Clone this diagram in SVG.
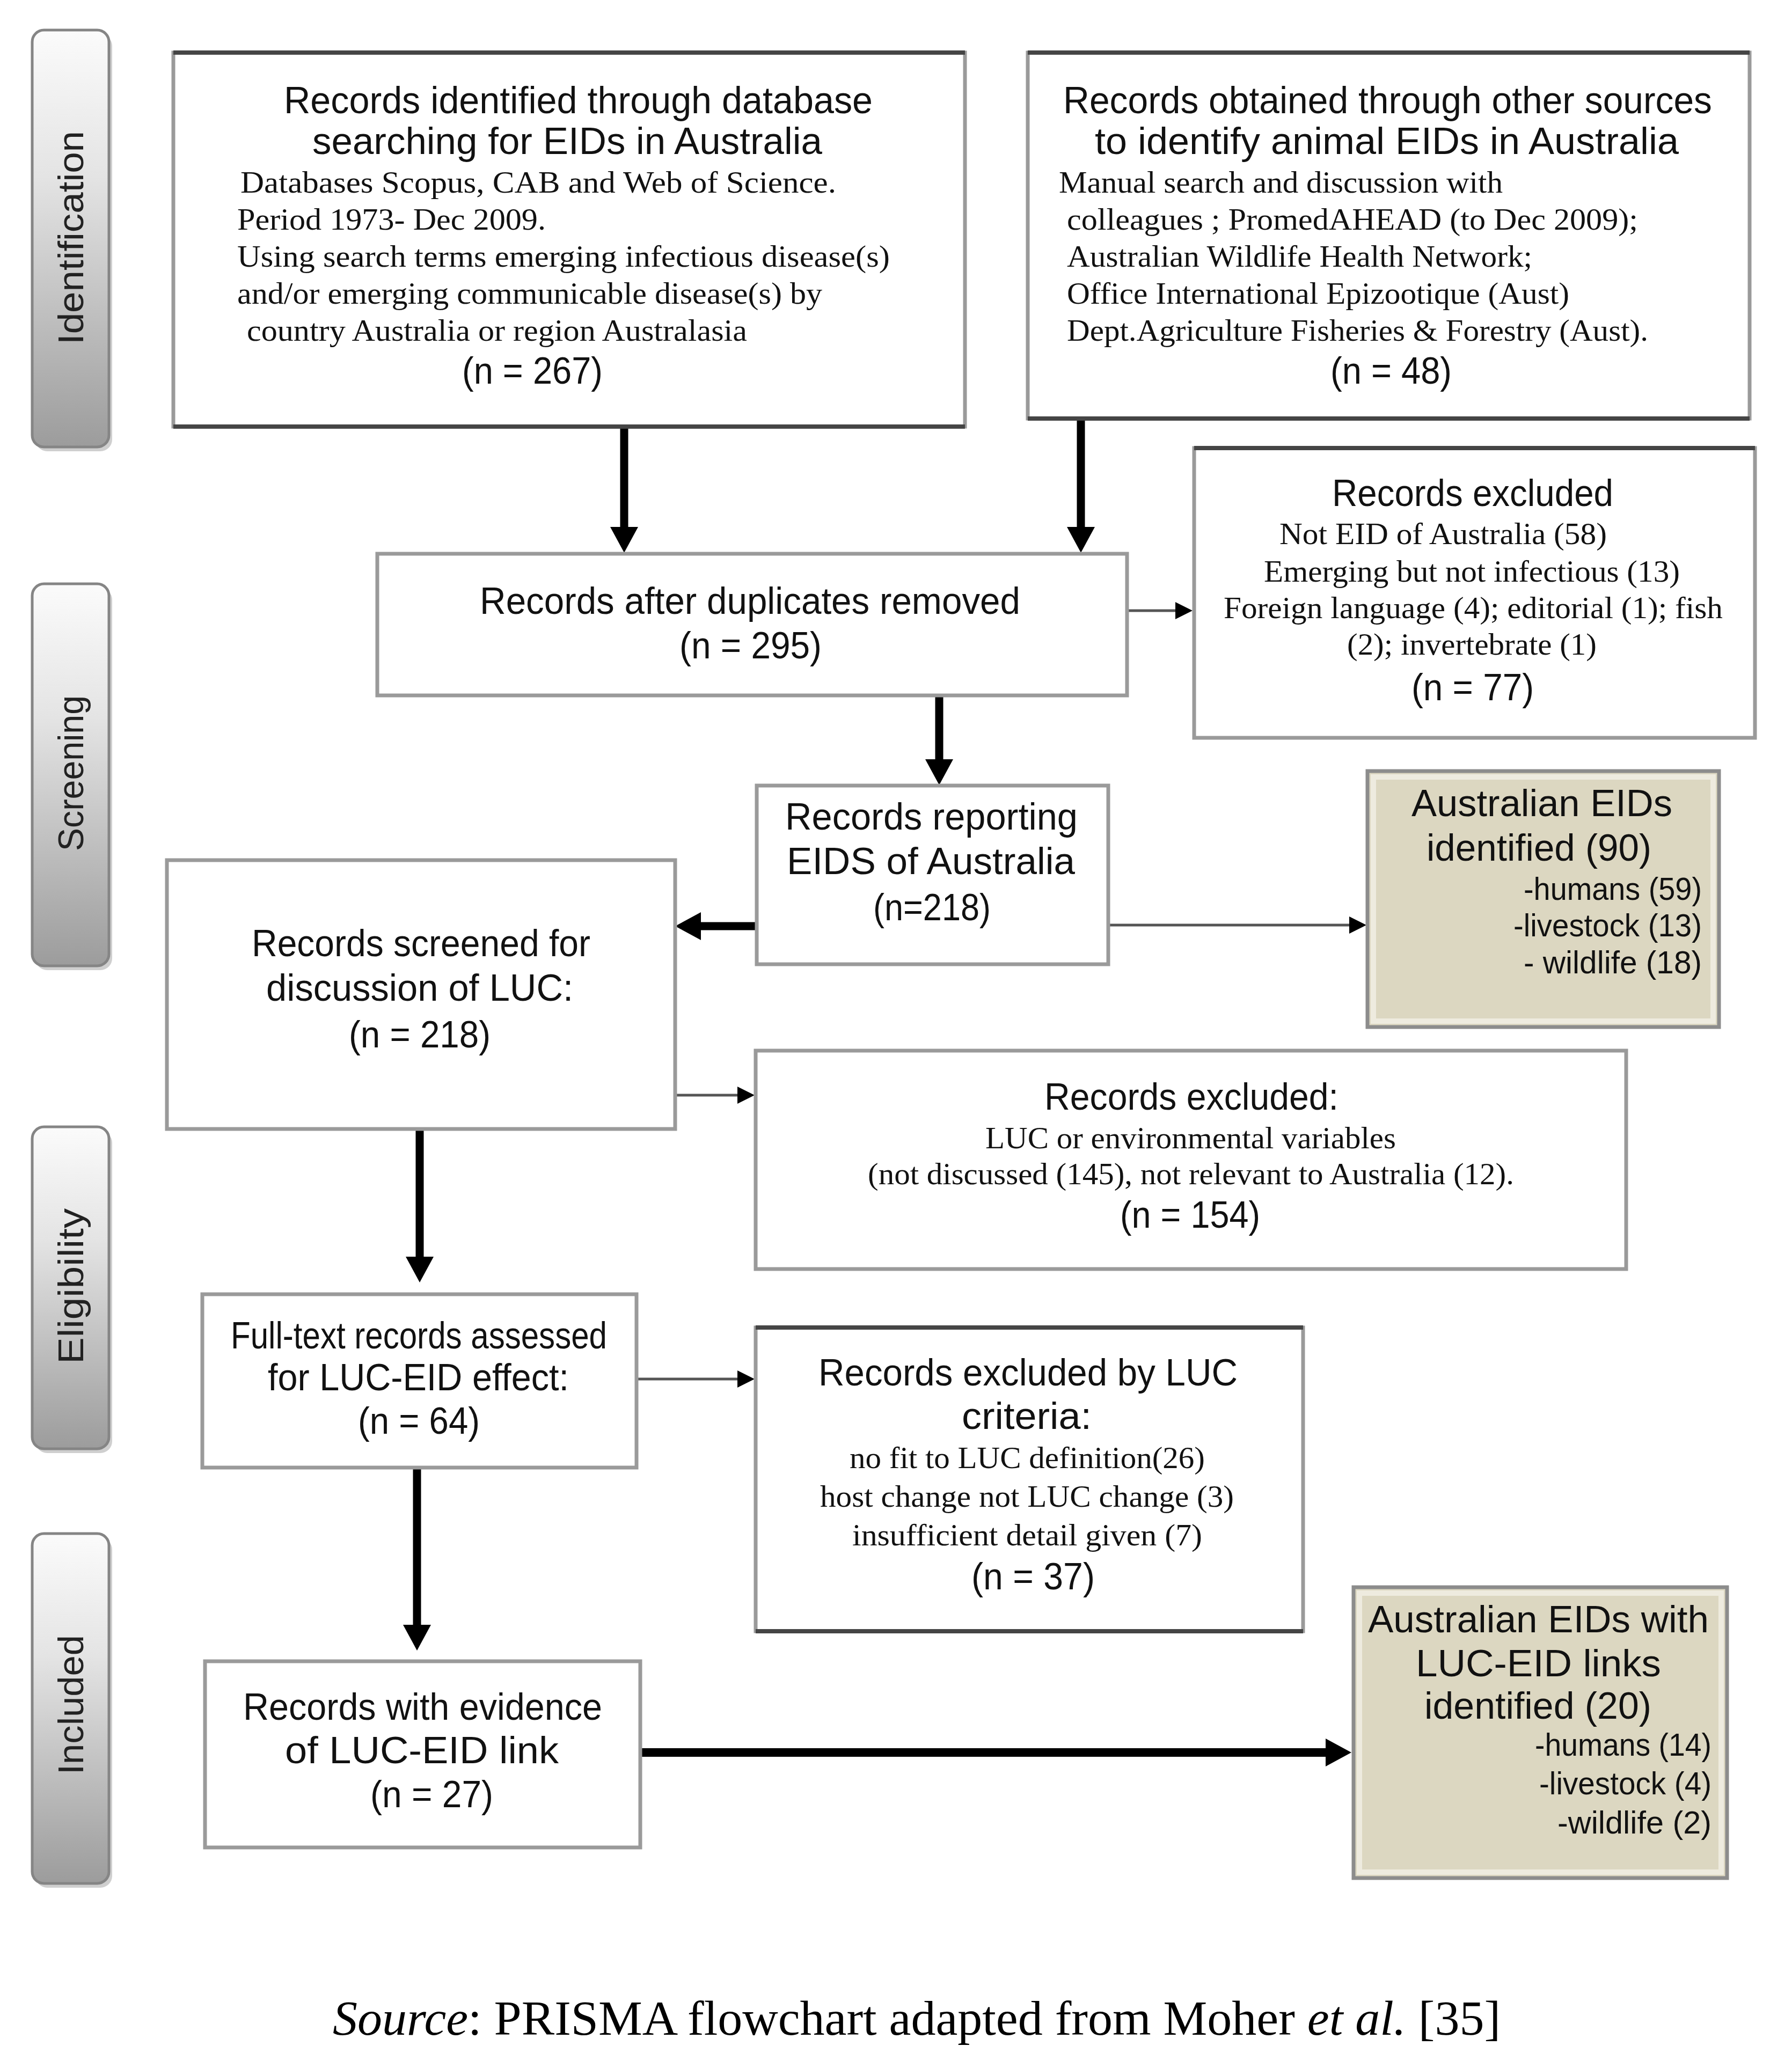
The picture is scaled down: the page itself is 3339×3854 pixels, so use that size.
<svg xmlns="http://www.w3.org/2000/svg" width="3339" height="3854" viewBox="0 0 3339 3854">
<style>
.box{fill:#fff;stroke:#9a9a9a;stroke-width:7}
.edge{stroke:#454545;stroke-width:8}
.eid{fill:#dcd7c1;stroke:#8c8c8c;stroke-width:7}
.eidin{fill:none;stroke:#eeebdf;stroke-width:10}
.t{font-family:"Liberation Sans",Arial,sans-serif;font-size:70px;fill:#111}
.s{font-family:"Liberation Serif","Times New Roman",serif;font-size:58px;fill:#111}
.i{font-family:"Liberation Sans",Arial,sans-serif;font-size:59px;fill:#111}
.tab{fill:url(#tg);stroke:#858585;stroke-width:5}
.tabsh{fill:#cfcfcf}
.tabt{font-family:"Liberation Sans",Arial,sans-serif;font-size:66px;fill:#222}
.thick{stroke:#000;stroke-width:15;fill:none}
.thin{stroke:#555;stroke-width:5;fill:none}
.cap{font-family:"Liberation Serif","Times New Roman",serif;font-size:92px;fill:#000}
</style>
<defs>
<linearGradient id="tg" x1="0" y1="0" x2="0" y2="1">
<stop offset="0" stop-color="#fbfbfb"/>
<stop offset="0.35" stop-color="#e4e4e4"/>
<stop offset="1" stop-color="#9c9c9c"/>
</linearGradient>
<marker id="hk" markerUnits="userSpaceOnUse" markerWidth="48" markerHeight="52" refX="0" refY="26" orient="auto" viewBox="0 0 48 52">
<path d="M0,0 L48,26 L0,52 z" fill="#000"/>
</marker>
<marker id="hn" markerUnits="userSpaceOnUse" markerWidth="32" markerHeight="32" refX="0" refY="16" orient="auto" viewBox="0 0 32 32">
<path d="M0,0 L32,16 L0,32 z" fill="#000"/>
</marker>
</defs>
<rect width="3339" height="3854" fill="#fff"/>

<g id="tabs">
<g id="tab-identification">
<rect class="tabsh" x="66" y="64" width="143" height="777" rx="22"/>
<rect class="tab" x="60" y="56" width="143" height="777" rx="22"/>
<text class="tabt" transform="translate(155,642) rotate(-90)" x="0" y="0" textLength="398" lengthAdjust="spacingAndGlyphs">Identification</text>
</g>
<g id="tab-screening">
<rect class="tabsh" x="66" y="1096" width="143" height="712" rx="22"/>
<rect class="tab" x="60" y="1088" width="143" height="712" rx="22"/>
<text class="tabt" transform="translate(155,1586) rotate(-90)" x="0" y="0" textLength="290" lengthAdjust="spacingAndGlyphs">Screening</text>
</g>
<g id="tab-eligibility">
<rect class="tabsh" x="66" y="2108" width="143" height="600" rx="22"/>
<rect class="tab" x="60" y="2100" width="143" height="600" rx="22"/>
<text class="tabt" transform="translate(155,2542) rotate(-90)" x="0" y="0" textLength="290" lengthAdjust="spacingAndGlyphs">Eligibility</text>
</g>
<g id="tab-included">
<rect class="tabsh" x="66" y="2866" width="143" height="652" rx="22"/>
<rect class="tab" x="60" y="2858" width="143" height="652" rx="22"/>
<text class="tabt" transform="translate(155,3307) rotate(-90)" x="0" y="0" textLength="260" lengthAdjust="spacingAndGlyphs">Included</text>
</g>
</g>

<g id="connectors">
<line class="thick" x1="1163" y1="797" x2="1163" y2="982" marker-end="url(#hk)"/>
<line class="thick" x1="2014" y1="782" x2="2014" y2="982" marker-end="url(#hk)"/>
<line class="thin" x1="2100" y1="1138" x2="2190" y2="1138" marker-end="url(#hn)"/>
<line class="thick" x1="1750" y1="1298" x2="1750" y2="1415" marker-end="url(#hk)"/>
<line class="thick" x1="1410" y1="1726" x2="1306" y2="1726" marker-end="url(#hk)"/>
<line class="thin" x1="2065" y1="1724" x2="2514" y2="1724" marker-end="url(#hn)"/>
<line class="thin" x1="1250" y1="2041" x2="1374" y2="2041" marker-end="url(#hn)"/>
<line class="thick" x1="782" y1="2104" x2="782" y2="2342" marker-end="url(#hk)"/>
<line class="thin" x1="1176" y1="2570" x2="1374" y2="2570" marker-end="url(#hn)"/>
<line class="thick" x1="777" y1="2712" x2="777" y2="3028" marker-end="url(#hk)"/>
<line class="thick" x1="1193" y1="3266" x2="2470" y2="3266" style="stroke-width:16" marker-end="url(#hk)"/>
</g>

<g id="node-db">
<rect class="box" x="323" y="98" width="1475" height="697"/>
<line class="edge" x1="323" y1="98" x2="1798" y2="98"/>
<line class="edge" x1="323" y1="795" x2="1798" y2="795"/>
<text class="t" x="529" y="211" textLength="1097" lengthAdjust="spacingAndGlyphs">Records identified through database</text>
<text class="t" x="582" y="287" textLength="950" lengthAdjust="spacingAndGlyphs">searching for EIDs in Australia</text>
<text class="s" x="448" y="359" textLength="1110" lengthAdjust="spacingAndGlyphs">Databases  Scopus, CAB and  Web of Science.</text>
<text class="s" x="442" y="428" textLength="575" lengthAdjust="spacingAndGlyphs">Period  1973- Dec 2009.</text>
<text class="s" x="442" y="497" textLength="1216" lengthAdjust="spacingAndGlyphs">Using search terms   emerging infectious disease(s)</text>
<text class="s" x="442" y="566" textLength="1090" lengthAdjust="spacingAndGlyphs">and/or emerging  communicable disease(s) by</text>
<text class="s" x="460" y="635" textLength="932" lengthAdjust="spacingAndGlyphs">country Australia or region  Australasia</text>
<text class="t" x="861" y="715" textLength="262" lengthAdjust="spacingAndGlyphs">(n = 267)</text>
</g>

<g id="node-other">
<rect class="box" x="1915" y="98" width="1345" height="682"/>
<line class="edge" x1="1915" y1="98" x2="3260" y2="98"/>
<line class="edge" x1="1915" y1="780" x2="3260" y2="780"/>
<text class="t" x="1981" y="211" textLength="1209" lengthAdjust="spacingAndGlyphs">Records obtained through other sources</text>
<text class="t" x="2040" y="287" textLength="1088" lengthAdjust="spacingAndGlyphs">to identify animal EIDs in Australia</text>
<text class="s" x="1973" y="359" textLength="827" lengthAdjust="spacingAndGlyphs">Manual search and discussion with</text>
<text class="s" x="1988" y="428" textLength="1064" lengthAdjust="spacingAndGlyphs">colleagues ;  PromedAHEAD (to Dec 2009);</text>
<text class="s" x="1988" y="497" textLength="867" lengthAdjust="spacingAndGlyphs">Australian Wildlife Health Network;</text>
<text class="s" x="1988" y="566" textLength="936" lengthAdjust="spacingAndGlyphs">Office International Epizootique (Aust)</text>
<text class="s" x="1988" y="635" textLength="1083" lengthAdjust="spacingAndGlyphs">Dept.Agriculture Fisheries &amp; Forestry (Aust).</text>
<text class="t" x="2479" y="715" textLength="226" lengthAdjust="spacingAndGlyphs">(n = 48)</text>
</g>

<g id="node-dedup">
<rect class="box" x="703" y="1032" width="1397" height="264"/>
<text class="t" x="894" y="1144" textLength="1007" lengthAdjust="spacingAndGlyphs">Records after duplicates removed</text>
<text class="t" x="1266" y="1227" textLength="265" lengthAdjust="spacingAndGlyphs">(n = 295)</text>
</g>

<g id="node-excluded1">
<rect class="box" x="2225" y="835" width="1045" height="540"/>
<line class="edge" x1="2225" y1="835" x2="3270" y2="835"/>
<text class="t" x="2482" y="943" textLength="524" lengthAdjust="spacingAndGlyphs">Records excluded</text>
<text class="s" x="2384" y="1014" textLength="610" lengthAdjust="spacingAndGlyphs">Not EID of Australia (58)</text>
<text class="s" x="2355" y="1084" textLength="775" lengthAdjust="spacingAndGlyphs">Emerging but not infectious (13)</text>
<text class="s" x="2280" y="1152" textLength="930" lengthAdjust="spacingAndGlyphs">Foreign language (4); editorial (1); fish</text>
<text class="s" x="2510" y="1220" textLength="465" lengthAdjust="spacingAndGlyphs">(2); invertebrate (1)</text>
<text class="t" x="2630" y="1305" textLength="228" lengthAdjust="spacingAndGlyphs">(n = 77)</text>
</g>

<g id="node-reporting">
<rect class="box" x="1410" y="1464" width="655" height="333"/>
<text class="t" x="1463" y="1546" textLength="545" lengthAdjust="spacingAndGlyphs">Records reporting</text>
<text class="t" x="1466" y="1629" textLength="537" lengthAdjust="spacingAndGlyphs">EIDS of Australia</text>
<text class="t" x="1627" y="1715" textLength="219" lengthAdjust="spacingAndGlyphs">(n=218)</text>
</g>

<g id="node-eids90">
<rect class="eid" x="2548" y="1437" width="655" height="477"/>
<rect class="eidin" x="2559" y="1448" width="633" height="455"/>
<text class="t" x="2630" y="1521" textLength="486" lengthAdjust="spacingAndGlyphs">Australian EIDs</text>
<text class="t" x="2658" y="1604" textLength="419" lengthAdjust="spacingAndGlyphs">identified (90)</text>
<text class="i" x="2839" y="1677" textLength="332" lengthAdjust="spacingAndGlyphs">-humans (59)</text>
<text class="i" x="2820" y="1745" textLength="351" lengthAdjust="spacingAndGlyphs">-livestock (13)</text>
<text class="i" x="2839" y="1814" textLength="332" lengthAdjust="spacingAndGlyphs">- wildlife (18)</text>
</g>

<g id="node-screened">
<rect class="box" x="311" y="1603" width="947" height="501"/>
<text class="t" x="469" y="1782" textLength="631" lengthAdjust="spacingAndGlyphs">Records screened for</text>
<text class="t" x="496" y="1865" textLength="572" lengthAdjust="spacingAndGlyphs">discussion of LUC:</text>
<text class="t" x="650" y="1952" textLength="264" lengthAdjust="spacingAndGlyphs">(n = 218)</text>
</g>

<g id="node-excluded2">
<rect class="box" x="1408" y="1958" width="1622" height="407"/>
<text class="t" x="1946" y="2068" textLength="548" lengthAdjust="spacingAndGlyphs">Records excluded:</text>
<text class="s" x="1836" y="2140" textLength="765" lengthAdjust="spacingAndGlyphs">LUC or environmental variables</text>
<text class="s" x="1617" y="2207" textLength="1204" lengthAdjust="spacingAndGlyphs">(not discussed (145), not relevant to Australia (12).</text>
<text class="t" x="2087" y="2288" textLength="261" lengthAdjust="spacingAndGlyphs">(n = 154)</text>
</g>

<g id="node-fulltext">
<rect class="box" x="377" y="2412" width="809" height="323"/>
<text class="t" x="430" y="2513" textLength="701" lengthAdjust="spacingAndGlyphs">Full-text records assessed</text>
<text class="t" x="499" y="2591" textLength="561" lengthAdjust="spacingAndGlyphs">for LUC-EID effect:</text>
<text class="t" x="667" y="2672" textLength="227" lengthAdjust="spacingAndGlyphs">(n = 64)</text>
</g>

<g id="node-excluded3">
<rect class="box" x="1408" y="2474" width="1020" height="566"/>
<line class="edge" x1="1408" y1="2474" x2="2428" y2="2474"/>
<line class="edge" x1="1408" y1="3040" x2="2428" y2="3040"/>
<text class="t" x="1525" y="2582" textLength="781" lengthAdjust="spacingAndGlyphs">Records excluded by LUC</text>
<text class="t" x="1792" y="2663" textLength="242" lengthAdjust="spacingAndGlyphs">criteria:</text>
<text class="s" x="1583" y="2736" textLength="662" lengthAdjust="spacingAndGlyphs">no fit to LUC definition(26)</text>
<text class="s" x="1528" y="2808" textLength="771" lengthAdjust="spacingAndGlyphs">host change not LUC change (3)</text>
<text class="s" x="1588" y="2880" textLength="652" lengthAdjust="spacingAndGlyphs">insufficient detail given (7)</text>
<text class="t" x="1810" y="2962" textLength="230" lengthAdjust="spacingAndGlyphs">(n = 37)</text>
</g>

<g id="node-evidence">
<rect class="box" x="382" y="3096" width="811" height="347"/>
<text class="t" x="453" y="3205" textLength="669" lengthAdjust="spacingAndGlyphs">Records with evidence</text>
<text class="t" x="531" y="3286" textLength="510" lengthAdjust="spacingAndGlyphs">of LUC-EID link</text>
<text class="t" x="690" y="3368" textLength="229" lengthAdjust="spacingAndGlyphs">(n = 27)</text>
</g>

<g id="node-eids20">
<rect class="eid" x="2522" y="2958" width="696" height="542"/>
<rect class="eidin" x="2533" y="2969" width="674" height="520"/>
<text class="t" x="2549" y="3042" textLength="635" lengthAdjust="spacingAndGlyphs">Australian EIDs with</text>
<text class="t" x="2638" y="3124" textLength="457" lengthAdjust="spacingAndGlyphs">LUC-EID links</text>
<text class="t" x="2654" y="3203" textLength="423" lengthAdjust="spacingAndGlyphs">identified (20)</text>
<text class="i" x="2860" y="3272" textLength="329" lengthAdjust="spacingAndGlyphs">-humans (14)</text>
<text class="i" x="2868" y="3344" textLength="321" lengthAdjust="spacingAndGlyphs">-livestock (4)</text>
<text class="i" x="2902" y="3417" textLength="287" lengthAdjust="spacingAndGlyphs">-wildlife (2)</text>
</g>

<text id="caption" class="cap" x="620" y="3792"><tspan font-style="italic">Source</tspan>: PRISMA flowchart adapted from Moher <tspan font-style="italic">et al.</tspan> [35]</text>
</svg>
